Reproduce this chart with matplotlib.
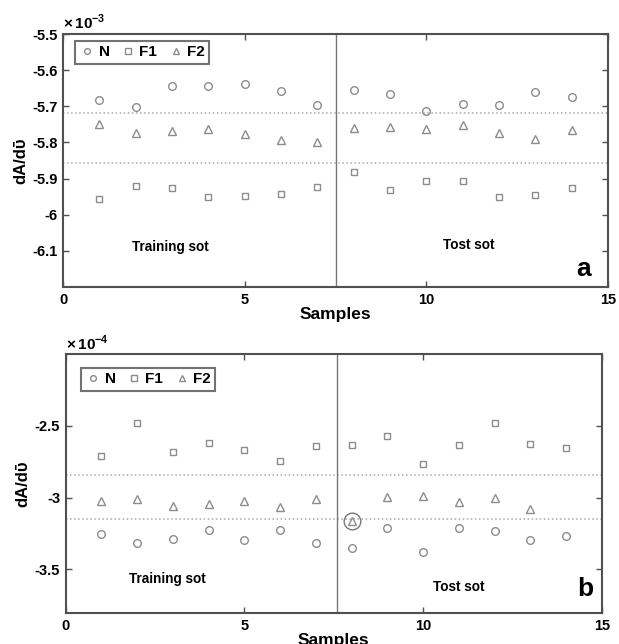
import numpy as np
import matplotlib
matplotlib.use("Agg")
import matplotlib.pyplot as plt

plt.rcParams['font.family'] = ['Liberation Sans', 'DejaVu Sans']
plt.rcParams['font.weight'] = 'bold'
plt.rcParams['mathtext.fontset'] = 'custom'
plt.rcParams['mathtext.rm'] = 'Liberation Sans:bold'
plt.rcParams['mathtext.bf'] = 'Liberation Sans:bold'

samples = np.arange(1, 15)

# Panel a (x 1e-3)
a_N = [-5.683, -5.702, -5.643, -5.643, -5.637, -5.657, -5.696,
       -5.654, -5.667, -5.712, -5.695, -5.697, -5.661, -5.674]
a_F1 = [-5.956, -5.920, -5.925, -5.950, -5.949, -5.943, -5.924,
        -5.882, -5.931, -5.908, -5.906, -5.952, -5.945, -5.927]
a_F2 = [-5.748, -5.774, -5.769, -5.762, -5.778, -5.794, -5.798,
        -5.761, -5.758, -5.762, -5.753, -5.774, -5.791, -5.766]
a_hlines = [-5.7185, -5.8556]
a_divider = 7.5
a_yticks = [-6.1, -6.0, -5.9, -5.8, -5.7, -5.6, -5.5]
a_yticklabels = ['-6.1', '-6', '-5.9', '-5.8', '-5.7', '-5.6', '-5.5']
a_ylim = (-6.2, -5.5)

# Panel b (x 1e-4)
b_N = [-3.251, -3.314, -3.291, -3.228, -3.298, -3.223, -3.316,
       -3.351, -3.214, -3.379, -3.214, -3.235, -3.298, -3.268]
b_F1 = [-2.707, -2.481, -2.679, -2.619, -2.667, -2.744, -2.637,
        -2.635, -2.572, -2.763, -2.633, -2.479, -2.626, -2.651]
b_F2 = [-3.023, -3.007, -3.056, -3.044, -3.021, -3.063, -3.007,
        -3.163, -2.993, -2.988, -3.028, -3.005, -3.081, np.nan]
b_hlines = [-2.840, -3.151]
b_divider = 7.58
b_yticks = [-3.5, -3.0, -2.5]
b_yticklabels = ['-3.5', '-3', '-2.5']
b_ylim = (-3.807, -2.0)
b_highlight = 8

xticks = [0, 5, 10, 15]
xticklabels = ['0', '5', '10', '15']

mc = '#8c8c8c'
spc = '#505050'

fig = plt.figure(figsize=(6.19, 6.44), dpi=100)
axA = fig.add_axes([63/619, 1-287/644, 545/619, 253/644])
axB = fig.add_axes([65.7/619, 1-613.3/644, 536/619, 259/644])


def panel(ax, N, F1, F2, hl, div, yt, ytl, ylim, exp, letter, txt_pos, leg_anchor):
    ax.plot(samples, N, 'o', ms=5.5, mfc='none', mec=mc, mew=1, label='N')
    ax.plot(samples, F1, 's', ms=5, mfc='none', mec=mc, mew=1, label='F1')
    ax.plot(samples, F2, '^', ms=5.5, mfc='none', mec=mc, mew=1, label='F2')
    for h in hl:
        ax.axhline(h, color='#aaaaaa', ls=':', lw=1.1, zorder=0)
    ax.axvline(div, color='#777777', lw=1.0, zorder=0)
    ax.set_xlim(0, 15)
    ax.set_ylim(*ylim)
    ax.set_xticks(xticks)
    ax.set_xticklabels(xticklabels)
    ax.set_yticks(yt)
    ax.set_yticklabels(ytl)
    ax.tick_params(direction='in', length=4, width=1, colors=spc,
                   labelcolor='black', labelsize=10.5, top=True, right=True,
                   pad=4)
    for t in ax.get_xticklabels() + ax.get_yticklabels():
        t.set_fontweight('bold')
    for s in ax.spines.values():
        s.set_color(spc)
        s.set_linewidth(1.5)
    ax.set_xlabel('Samples', fontsize=12.5, fontweight='bold', labelpad=0)
    ax.set_ylabel('dA/d\u1fe1', fontsize=12, fontweight='bold', labelpad=3,
                  family=['Liberation Sans', 'DejaVu Sans'])
    ax.text(0.0, 1.006, r'$\times\,10^{%d}$' % exp, transform=ax.transAxes,
            fontsize=11, ha='left', va='bottom')
    (tx1, ty1), (tx2, ty2), (lx, ly) = txt_pos
    ax.text(tx1, ty1, 'Training sot', fontsize=9.8, fontweight='bold',
            ha='center', va='center')
    ax.text(tx2, ty2, 'Tost sot', fontsize=9.8, fontweight='bold',
            ha='center', va='center')
    ax.text(lx, ly, letter, fontsize=19, fontweight='bold',
            ha='center', va='center')
    leg = ax.legend(loc='upper left', bbox_to_anchor=leg_anchor,
                    borderaxespad=0, ncol=3, frameon=True, markerscale=0.75,
                    fancybox=False, handletextpad=0.25, columnspacing=0.7,
                    handlelength=1.0, borderpad=0.3,
                    prop={'weight': 'bold', 'size': 11})
    leg.get_frame().set_edgecolor(spc)
    leg.get_frame().set_linewidth(1.5)
    return ax


panel(axA, a_N, a_F1, a_F2, a_hlines, a_divider, a_yticks, a_yticklabels,
      a_ylim, -3, 'a',
      [(2.95, -6.088), (11.16, -6.084), (14.34, -6.15)], (0.022, 0.974))
panel(axB, b_N, b_F1, b_F2, b_hlines, b_divider, b_yticks, b_yticklabels,
      b_ylim, -4, 'b',
      [(2.84, -3.568), (11.0, -3.621), (14.53, -3.64)], (0.0285, 0.948))

# highlighted point in panel b
axB.plot([b_highlight], [b_F2[b_highlight - 1]], 'o', ms=12, mfc='none',
         mec='#777777', mew=1)

fig.savefig('out.png', dpi=100)
